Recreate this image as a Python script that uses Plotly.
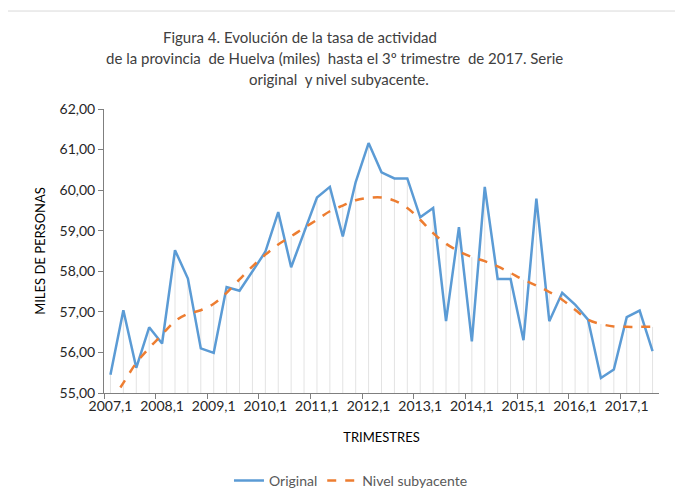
import plotly.graph_objects as go

years = list(range(2007, 2018))
quarters = [f"{y},{q}" for y in years for q in (1, 2, 3, 4)][:43]

original = [
    55.45, 57.04, 55.62, 56.62, 56.22, 58.52, 57.82, 56.10, 55.99, 57.61,
    57.52, 58.00, 58.48, 59.46, 58.10, 58.96, 59.82, 60.08, 58.86, 60.20,
    61.16, 60.44, 60.29, 60.29, 59.33, 59.56, 56.77, 59.09, 56.27, 60.08,
    57.81, 57.81, 56.30, 59.79, 56.77, 57.47, 57.18, 56.81, 55.37, 55.58,
    56.87, 57.03, 56.03,
]
nivel = [
    54.75, 55.25, 55.74, 56.11, 56.44, 56.77, 56.95, 57.04, 57.20, 57.47,
    57.80, 58.12, 58.41, 58.66, 58.86, 59.07, 59.27, 59.48, 59.62, 59.75,
    59.81, 59.82, 59.74, 59.56, 59.27, 58.94, 58.68, 58.49, 58.35, 58.25,
    58.12, 57.96, 57.79, 57.65, 57.49, 57.30, 57.05, 56.81, 56.70, 56.64,
    56.63, 56.63, 56.63,
]

title_lines = [
    "Figura 4. Evolución de la tasa de actividad",
    "de la provincia  de Huelva (miles)  hasta el 3º trimestre  de 2017. Serie",
    "original  y nivel subyacente.",
]
title_x = [0.353, 0.416, 0.423]

idx = list(range(len(quarters)))
label_idx = idx[::4]
label_txt = [f"{y},1" for y in years]

FONT = "Lato"
BLUE = "#5B9BD5"
ORANGE = "#ED7D31"

# drop lines (Excel style) from the highest series to the axis
drop_x, drop_y = [], []
for i in idx:
    drop_x += [i, i, None]
    drop_y += [55, max(original[i], nivel[i]), None]

fig = go.Figure()
fig.add_trace(go.Scatter(
    x=drop_x, y=drop_y, mode="lines",
    line={"color": "#e3e3e3", "width": 1},
    showlegend=False, hoverinfo="skip",
))
fig.add_trace(go.Scatter(
    x=idx, y=original, mode="lines", name="Original",
    line={"color": BLUE, "width": 2.5},
))
fig.add_trace(go.Scatter(
    x=idx, y=nivel, mode="lines", name="Nivel subyacente",
    line={"color": ORANGE, "width": 2.5, "dash": "dash"},
    line_shape="spline",
))

# page body adds an 8px offset, so the figure is a bit smaller than the window
fig.update_layout(
    width=675,
    height=480,
    margin={"l": 96, "r": 24, "t": 101, "b": 95, "autoexpand": False},
    paper_bgcolor="white",
    plot_bgcolor="white",
    separators=",.",
    font={"family": FONT, "size": 14, "color": "#262626"},
    legend={
        "orientation": "h",
        "x": 0.445, "xanchor": "center",
        "yref": "container",
        "y": 0.015, "yanchor": "middle",
        "itemwidth": 30,
        "font": {"family": FONT, "size": 14, "color": "#595959"},
        "bgcolor": "rgba(0,0,0,0)",
    },
    showlegend=True,
)

# title lines placed one by one to get the spreadsheet line spacing
for k, line in enumerate(title_lines):
    fig.add_annotation(
        text=line, xref="paper", yref="paper",
        x=title_x[k], y=1.2535 - k * 0.074,
        xanchor="center", yanchor="middle", showarrow=False,
        font={"family": FONT, "size": 15, "color": "#404040"},
    )

fig.update_xaxes(
    range=[-0.5, 42.5],
    automargin=False,
    tickmode="array",
    tickvals=label_idx,
    ticktext=label_txt,
    ticks="",
    showgrid=False,
    zeroline=False,
    showline=True,
    linecolor="#7f7f7f",
    linewidth=1,
    tickfont={"family": FONT, "size": 14, "color": "#262626"},
    minor={
        "tickmode": "array",
        "tickvals": [i - 0.5 for i in label_idx],
        "ticks": "outside",
        "ticklen": 5,
        "tickcolor": "#7f7f7f",
        "showgrid": False,
    },
    title={"text": "TRIMESTRES", "standoff": 20,
           "font": {"family": FONT, "size": 13, "color": "#000000"}},
)

fig.update_yaxes(
    range=[55, 62],
    automargin=False,
    dtick=1,
    tickformat=".2f",
    ticks="outside",
    ticklen=5,
    tickcolor="#7f7f7f",
    showgrid=False,
    zeroline=False,
    showline=True,
    linecolor="#7f7f7f",
    linewidth=1,
    tickfont={"family": FONT, "size": 14, "color": "#262626"},
    title={"text": "MILES DE PERSONAS", "standoff": 10,
           "font": {"family": FONT, "size": 13, "color": "#000000"}},
)

# light chart frame, as in the spreadsheet export
fig.add_shape(
    type="rect", xref="paper", yref="paper",
    x0=-0.175, x1=1.06, y0=-0.36, y1=1.345,
    line={"color": "#d9d9d9", "width": 1},
    layer="below",
)

fig.write_html("out.html")
